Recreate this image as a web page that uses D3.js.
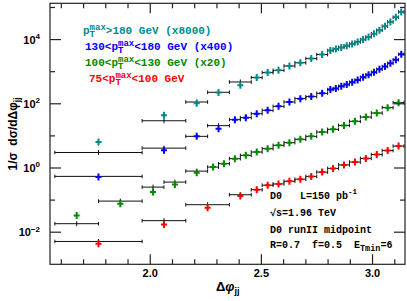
<!DOCTYPE html>
<html lang="en">
<head>
<meta charset="UTF-8">
<title>Delta phi dijet distributions</title>
<script src="https://cdn.jsdelivr.net/npm/d3@7"></script>
<style>
  body { margin: 0; background: #fff; }
  svg { display: block; }
  text { font-family: "Liberation Sans", Arial, sans-serif; white-space: pre; }
  text.mono { font-family: "Liberation Mono", "DejaVu Sans Mono", monospace; font-weight: bold; }
</style>
</head>
<body>
<script>
  // bin edges, in units of pi/128
  var edgesTeal = [64, 80, 88, 92, 96, 100, 102, 104, 106, 108, 110, 112, 114,
    115, 116, 117, 118, 119, 120, 121, 122, 123, 124, 125, 126, 127, 128];
  var edgesBlue = [64, 80, 88, 92, 96, 98, 100, 102, 104, 106, 108, 110, 112, 114,
    115, 116, 117, 118, 119, 120, 121, 122, 123, 124, 125, 126, 127, 128];
  var edgesGreen = [64, 72, 80, 84, 88, 92, 94, 96, 98, 100, 102, 104, 106, 108,
    110, 112, 114, 116, 118, 120, 122, 124, 126, 128];
  var edgesRed = [64, 80, 88, 96, 100, 102, 104, 106, 108, 110, 112, 114, 116,
    118, 120, 122, 124, 126, 128];

  // 1/sigma dsigma/dDphi, before the display scale factor
  var dataTeal = [8.0e-4, 5.5e-3, 0.0129, 0.0279, 0.0471, 0.0818, 0.117, 0.138, 0.188,
    0.237, 0.320, 0.427, 0.569, 0.638, 0.710, 0.802, 0.906, 1.05, 1.25, 1.51,
    1.90, 2.44, 3.26, 4.43, 6.21, 9.08];
  var theoryTeal = [3.8e-4, 3.7e-3, 0.0142, 0.0285, 0.0597, 0.0818, 0.117, 0.138, 0.188,
    0.237, 0.320, 0.427, 0.569, 0.638, 0.710, 0.802, 0.906, 1.05, 1.25, 1.51,
    1.90, 2.44, 3.26, 4.43, 6.21, 9.08];
  var dataBlue = [1.30e-3, 8.85e-3, 0.0242, 0.0420, 0.0802, 0.0925, 0.123, 0.156, 0.208,
    0.284, 0.362, 0.418, 0.530, 0.692, 0.743, 0.875, 0.998, 1.17, 1.38, 1.67,
    2.00, 2.39, 2.97, 3.61, 4.57, 5.87, 8.71];
  var theoryBlue = [1.37e-3, 0.0104, 0.0242, 0.0521, 0.0802, 0.0925, 0.123, 0.156, 0.208,
    0.284, 0.362, 0.418, 0.530, 0.692, 0.743, 0.875, 0.998, 1.17, 1.38, 1.67,
    2.00, 2.39, 2.97, 3.61, 4.57, 5.87, 8.71];
  var dataGreen = [1.66e-3, 3.85e-3, 8.87e-3, 0.0154, 0.0356, 0.0533, 0.0681, 0.0975,
    0.124, 0.157, 0.200, 0.254, 0.308, 0.390, 0.483, 0.658, 0.800, 1.06, 1.42,
    1.93, 2.58, 3.79, 5.43];
  var theoryGreen = [9.2e-4, 4.65e-3, 0.0127, 0.0182, 0.0400, 0.0533, 0.0681, 0.0975,
    0.124, 0.157, 0.200, 0.254, 0.308, 0.390, 0.483, 0.658, 0.800, 1.06, 1.42,
    1.93, 2.58, 3.79, 5.43];
  var dataRed = [4.37e-3, 0.0174, 0.0578, 0.133, 0.210, 0.291, 0.319, 0.387, 0.448,
    0.547, 0.745, 0.972, 1.25, 1.53, 1.99, 2.62, 3.49, 4.82];
  var theoryRed = [5.14e-3, 0.0229, 0.0718, 0.147, 0.210, 0.291, 0.319, 0.387, 0.448,
    0.547, 0.745, 0.972, 1.25, 1.53, 1.99, 2.62, 3.49, 4.82];

  var scaleFactors = [8000, 400, 20, 1];
  var colors = ["#008b8b", "#0000ff", "#008a00", "#ff0000"];
  var legendPre = ["", "130<", "100<", "75<"];
  var legendPost = [">180 GeV (x8000)", "<180 GeV (x400)", "<130 GeV (x20)", "<100 GeV"];
  var xTickLabels = [2.0, 2.5, 3.0];
  var yTickExps = [-2, 0, 2, 4];

  var series = [
    { edges: edgesTeal, data: dataTeal, theory: theoryTeal },
    { edges: edgesBlue, data: dataBlue, theory: theoryBlue },
    { edges: edgesGreen, data: dataGreen, theory: theoryGreen },
    { edges: edgesRed, data: dataRed, theory: theoryRed }
  ];

  var W = 407, H = 301,
    L = 50, R = 405, T = 3.3, B = 264.3;

  var x = d3.scaleLinear().domain([1.549, 3.146]).range([L, R]);
  var y = d3.scaleLog().domain([1e-3, 1.35e5]).range([B, T]);

  var svg = d3.select("body").append("svg")
    .attr("width", W)
    .attr("height", H);

  // build bins for each series
  series.forEach(function (s, k) {
    s.color = colors[k];
    s.bins = s.data.map(function (v, i) {
      return {
        lo: s.edges[i] * Math.PI / 128,
        hi: s.edges[i + 1] * Math.PI / 128,
        v: v * scaleFactors[k],
        t: s.theory[i] * scaleFactors[k]
      };
    });
  });

  // theory: black histogram bars
  var th = svg.append("g").attr("stroke", "#111").attr("stroke-width", 1).attr("fill", "none");
  series.forEach(function (s) {
    var g = th.selectAll(null).data(s.bins).enter().append("g");
    g.append("line")
      .attr("x1", function (d) { return x(d.lo); })
      .attr("x2", function (d) { return x(d.hi); })
      .attr("y1", function (d) { return y(d.t); })
      .attr("y2", function (d) { return y(d.t); });
    g.append("path")
      .attr("d", function (d) {
        var yy = y(d.t), cx = x((d.lo + d.hi) / 2);
        return "M" + x(d.lo) + "," + (yy - 1.8) + "V" + (yy + 1.8) +
          "M" + x(d.hi) + "," + (yy - 1.8) + "V" + (yy + 1.8) +
          "M" + cx + "," + (yy - 2.5) + "V" + (yy + 2.5);
      });
  });

  // data: coloured crosses
  series.forEach(function (s) {
    svg.append("g").selectAll("path").data(s.bins).enter().append("path")
      .attr("stroke", s.color)
      .attr("stroke-width", 2)
      .attr("fill", "none")
      .attr("d", function (d) {
        var cx = x((d.lo + d.hi) / 2), cy = y(d.v);
        return "M" + (cx - 3) + "," + cy + "H" + (cx + 3) +
          "M" + cx + "," + (cy - 3.5) + "V" + (cy + 3.5);
      });
  });

  // frame and ticks
  var ax = svg.append("g").attr("stroke", "#222").attr("stroke-width", 1.2);
  ax.append("rect")
    .attr("x", L).attr("y", T).attr("width", R - L).attr("height", B - T)
    .attr("fill", "none");

  d3.range(16, 32).forEach(function (i) {
    var v = i / 10, len = (i % 5 === 0) ? 10 : 5, px = x(v);
    ax.append("line").attr("x1", px).attr("x2", px).attr("y1", B).attr("y2", B - len);
    ax.append("line").attr("x1", px).attr("x2", px).attr("y1", T).attr("y2", T + len);
  });

  d3.range(-2, 6).forEach(function (p) {
    var len = (p % 2 === 0) ? 11 : 5, py = y(Math.pow(10, p));
    ax.append("line").attr("x1", L).attr("x2", L + len).attr("y1", py).attr("y2", py);
    ax.append("line").attr("x1", R).attr("x2", R - len).attr("y1", py).attr("y2", py);
  });

  // tick labels
  svg.selectAll(".xl").data(xTickLabels).enter().append("text")
    .attr("x", function (d) { return x(d); })
    .attr("y", 277)
    .attr("text-anchor", "middle")
    .style("font-size", "11px")
    .style("font-weight", "bold")
    .text(function (d) { return d.toFixed(1); });

  var yl = svg.selectAll(".yl").data(yTickExps).enter().append("text")
    .attr("x", 40)
    .attr("y", function (d) { return y(Math.pow(10, d)) + 4; })
    .attr("text-anchor", "end")
    .style("font-size", "11px")
    .style("font-weight", "bold");
  yl.append("tspan").text("10");
  yl.append("tspan").attr("dy", -4.5).style("font-size", "8px")
    .text(function (d) { return d < 0 ? "\u2212" + (-d) : d; });

  // axis titles
  var xt = svg.append("text").attr("x", 216).attr("y", 291)
    .style("font-size", "13px").style("font-weight", "bold");
  xt.append("tspan").text("\u0394");
  xt.append("tspan").style("font-style", "italic").text("\u03c6");
  xt.append("tspan").attr("dy", 3).style("font-size", "9px").text("jj");

  var yt = svg.append("text")
    .attr("transform", "translate(17,134) rotate(-90)")
    .attr("text-anchor", "middle")
    .style("font-size", "12px")
    .style("font-weight", "bold");
  yt.append("tspan").text("1/\u03c3  d\u03c3/d\u0394\u03c6");
  yt.append("tspan").attr("dy", 3).style("font-size", "8.5px").text("jj");

  // text helper: returns x after the string
  function put(xp, yb, str, size, color) {
    var t = svg.append("text").attr("class", "mono")
      .attr("x", xp).attr("y", yb)
      .attr("fill", color || "#000")
      .style("font-size", size + "px")
      .text(str);
    return xp + t.node().getComputedTextLength();
  }

  // legend
  var legX = [83, 85, 85, 89], legY = [34, 50, 66, 82];
  colors.forEach(function (c, k) {
    var xq = put(legX[k], legY[k], legendPre[k] + "p", 11, c);
    put(xq, legY[k] + 2.5, "T", 9, c);
    var xr = put(xq, legY[k] - 4.5, "max", 9, c);
    put(xr, legY[k], legendPost[k], 11, c);
  });

  // run info
  var xa = put(270, 199, "D0   L=150 pb", 10);
  put(xa, 193.5, "-1", 7.5);
  put(270, 215.5, "\u221as=1.96 TeV", 10);
  put(270, 232.5, "D0 runII midpoint", 10);
  xa = put(270, 248, "R=0.7  f=0.5  E", 10);
  xa = put(xa, 251, "Tmin", 8.5);
  put(xa, 248, "=6", 10);
</script>
</body>
</html>
